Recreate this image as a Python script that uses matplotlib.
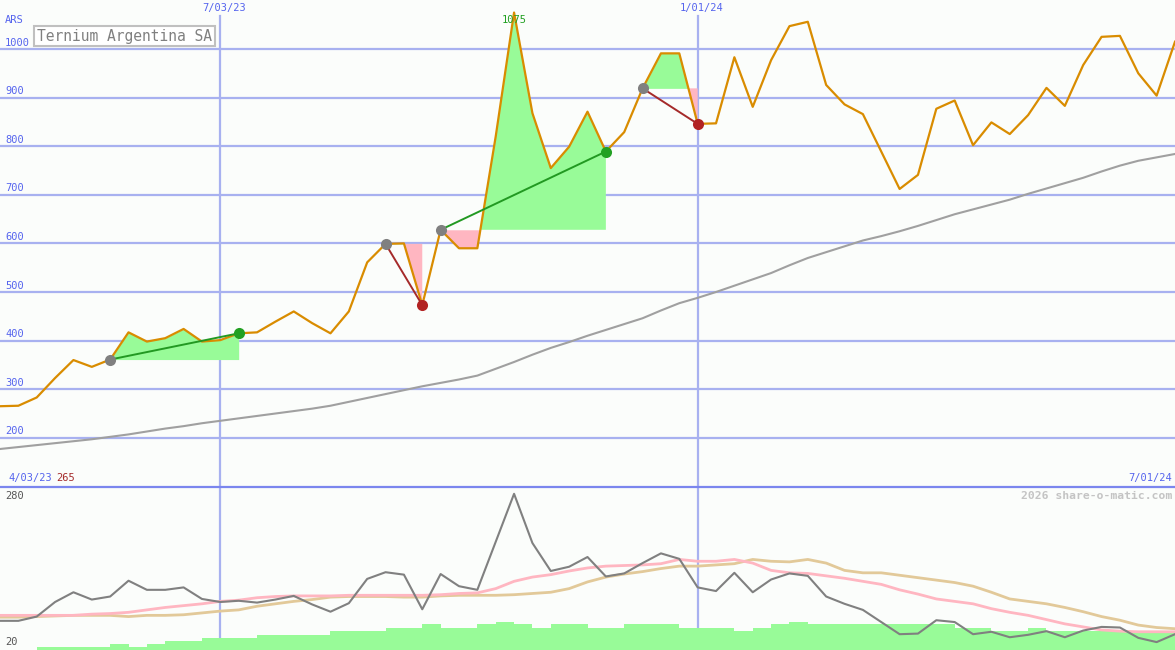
import numpy as np
import matplotlib
matplotlib.use("Agg")
import matplotlib.pyplot as plt
from matplotlib.lines import Line2D

# ---------------- data ----------------
price = [265, 266, 283, 323, 360, 346, 361, 417, 398, 405, 424, 398, 401, 415, 417,
         439, 460, 436, 415, 460, 561, 599, 600, 473, 628, 590, 590, 820, 1075, 868,
         755, 799, 871, 789, 829, 919, 991, 991, 846, 847, 983, 881, 977, 1047, 1056,
         926, 886, 866, 789, 712, 741, 877, 894, 802, 849, 825, 864, 920, 883, 967,
         1025, 1027, 950, 904, 1015]
long_ma = [177, 181, 185, 189, 193, 197, 202, 207, 213, 219, 224, 230, 235, 240, 245,
           250, 255, 260, 266, 274, 282, 290, 298, 306, 313, 320, 328, 342, 356, 371,
           385, 397, 410, 422, 434, 446, 462, 477, 488, 500, 513, 526, 539, 555, 570,
           582, 594, 606, 615, 625, 636, 648, 660, 670, 680, 690, 702, 713, 724, 735,
           748, 760, 770, 777, 784]
entry_idx = [6, 21, 24, 35]
exit_idx = [13, 23, 33, 38]

lower_line = [68, 68, 75, 99, 115, 103, 108, 134, 119, 119, 123, 104, 99, 101, 98,
              103, 109, 95, 83, 97, 137, 148, 144, 87, 145, 125, 119, 198, 277, 196,
              150, 157, 173, 141, 146, 163, 179, 170, 123, 117, 147, 115, 136, 146, 142,
              108, 96, 86, 66, 46, 47, 69, 66, 46, 50, 41, 45, 51, 41, 52,
              58, 57, 40, 33, 46]
lower_pink = [77, 77, 77, 77, 77, 79, 80, 82, 86, 90, 93, 96, 100, 102, 106,
              108, 109, 109, 109, 110, 110, 110, 110, 110, 111, 113, 114, 121, 133, 140,
              144, 150, 155, 158, 159, 160, 162, 169, 166, 166, 169, 163, 151, 147, 146,
              142, 138, 133, 128, 119, 112, 104, 100, 96, 88, 82, 77, 70, 63, 58,
              53, 51, 50, 50, 50]
lower_tan = [74, 74, 75, 76, 77, 77, 77, 75, 77, 77, 78, 81, 84, 86, 92,
             96, 100, 103, 107, 108, 108, 108, 107, 107, 109, 110, 110, 110, 111, 113,
             115, 121, 132, 140, 145, 149, 154, 158, 158, 160, 162, 169, 166, 165, 169,
             163, 151, 147, 147, 143, 139, 135, 131, 125, 115, 104, 100, 96, 90, 83,
             75, 69, 61, 57, 55]
lower_bars = [20, 20, 25, 25, 25, 25, 30, 25, 30, 35, 35, 40, 40, 40, 45,
              45, 45, 45, 51, 51, 51, 56, 56, 62, 56, 56, 62, 66, 62, 56,
              62, 62, 56, 56, 62, 62, 62, 56, 56, 56, 51, 56, 62, 66, 62,
              62, 62, 62, 62, 62, 62, 62, 56, 56, 51, 51, 56, 51, 51, 51,
              51, 51, 51, 51, 51]

y_ticks = [200, 300, 400, 500, 600, 700, 800, 900, 1000]
date_labels = ["7/03/23", "1/01/24"]
date_weeks = [12, 38]
start_label = "4/03/23"
end_label = "7/01/24"
title = "Ternium Argentina SA"
peak_label = "1075"

# ---------------- style ----------------
BG = "#fbfdfb"
GRID = "#a8b1f0"
BLUE_TXT = "#5564ee"
ORANGE = "#d98c00"
MONO = "DejaVu Sans Mono"

W, H = 1175, 650
fig = plt.figure(figsize=(W / 100, H / 100), dpi=100, facecolor=BG)
split = 487
ax = fig.add_axes([0, (H - split) / H, 1, split / H])
axb = fig.add_axes([0, 0, 1, (H - split) / H])
for a in (ax, axb):
    a.set_facecolor(BG)
    a.set_axis_off()
    a.set_xlim(0, 64)

weeks = np.arange(len(price))
p = np.array(price, dtype=float)

ax.set_ylim(98.8, 1100.8)
axb.set_ylim(20, 288.2)

# grid
for v in y_ticks:
    ax.axhline(v, color=GRID, lw=1.6, zorder=1)
    ax.text(5 / W, v + 3, str(v), transform=ax.get_yaxis_transform(),
            fontsize=7.5, family=MONO, color=BLUE_TXT, va="bottom", ha="left", zorder=6)
ax.text(5 / W, 1049, "ARS", transform=ax.get_yaxis_transform(),
        fontsize=7.5, family=MONO, color=BLUE_TXT, va="bottom", ha="left")

for wk, lab in zip(date_weeks, date_labels):
    ax.axvline(wk, ymin=0, ymax=1 - 16 / split, color=GRID, lw=1.6, zorder=1)
    axb.axvline(wk, color=GRID, lw=1.6, zorder=1)
    ax.text(wk + 0.2, 1 - 8 / split, lab, transform=ax.get_xaxis_transform(),
            fontsize=7.5, family=MONO, color=BLUE_TXT, ha="center", va="center")

# long moving average
ax.plot(weeks, long_ma, color="#a0a0a0", lw=1.5, zorder=2)

# trades
for e, x in zip(entry_idx, exit_idx):
    seg = slice(e, x + 1)
    lvl = p[e]
    ax.fill_between(weeks[seg], p[seg], lvl, where=p[seg] >= lvl, interpolate=True,
                    color="#98fb98", lw=0, zorder=2)
    ax.fill_between(weeks[seg], p[seg], lvl, where=p[seg] <= lvl, interpolate=True,
                    color="#ffb6c1", lw=0, zorder=2)

ax.plot(weeks, p, color=ORANGE, lw=1.6, zorder=3)

for e, x in zip(entry_idx, exit_idx):
    win = p[x] > p[e]
    lc = "#229922" if win else "#a52a2a"
    mc = "#22a022" if win else "#b22222"
    ax.plot([weeks[e], weeks[x]], [p[e], p[x]], color=lc, lw=1.4, zorder=4)
    ax.plot(weeks[e], p[e], "o", ms=8, color="#808080", mec="none", zorder=5)
    ax.plot(weeks[x], p[x], "o", ms=8, color=mc, mec="none", zorder=5)

imax = int(np.argmax(p))
ax.text(weeks[imax], 1 - 20 / split, peak_label, transform=ax.get_xaxis_transform(),
        fontsize=7.5, family=MONO, color="#22a022", ha="center", va="center", zorder=6)

# title box
ax.text(37 / W, 1 - 36 / split, title, transform=ax.transAxes, fontsize=10.5,
        family=MONO, color="#808080", ha="left", va="center", zorder=7,
        bbox=dict(boxstyle="square,pad=0.2", fc="white", ec="#c0c0c0", lw=1.5))

# bottom labels of top panel
ax.text(8 / W, 1 - 478 / split, start_label, transform=ax.transAxes, fontsize=7.5,
        family=MONO, color=BLUE_TXT, ha="left", va="center")
ax.text(56 / W, 1 - 478 / split, str(price[0]), transform=ax.transAxes, fontsize=7.5,
        family=MONO, color="#a52a2a", ha="left", va="center")
ax.text(1172 / W, 1 - 478 / split, end_label, transform=ax.transAxes, fontsize=7.5,
        family=MONO, color=BLUE_TXT, ha="right", va="center")

# lower panel
axb.fill_between(weeks, 20, lower_bars, step="post", color="#98fb98", lw=0, zorder=2)
axb.plot(weeks, lower_tan, color="#e2c999", lw=2, zorder=3)
axb.plot(weeks, lower_pink, color="#ffb6c1", lw=2, zorder=3)
axb.plot(weeks, lower_line, color="#808080", lw=1.5, zorder=4)
axb.text(5 / W, 1 - 9 / 163, "280", transform=axb.transAxes, fontsize=7.5,
         family=MONO, color="#555555", ha="left", va="center")
axb.text(5 / W, 1 - 155 / 163, "20", transform=axb.transAxes, fontsize=7.5,
         family=MONO, color="#555555", ha="left", va="center")
axb.text(1172 / W, 1 - 9 / 163, "2026 share-o-matic.com", transform=axb.transAxes,
         fontsize=8.2, family=MONO, weight="bold", color="#c4c4c4", ha="right", va="center")

fig.add_artist(Line2D([0, 1], [(H - split) / H] * 2, transform=fig.transFigure,
                      color="#7b86ee", lw=1.6))

fig.savefig("out.png", dpi=100, facecolor=BG)
